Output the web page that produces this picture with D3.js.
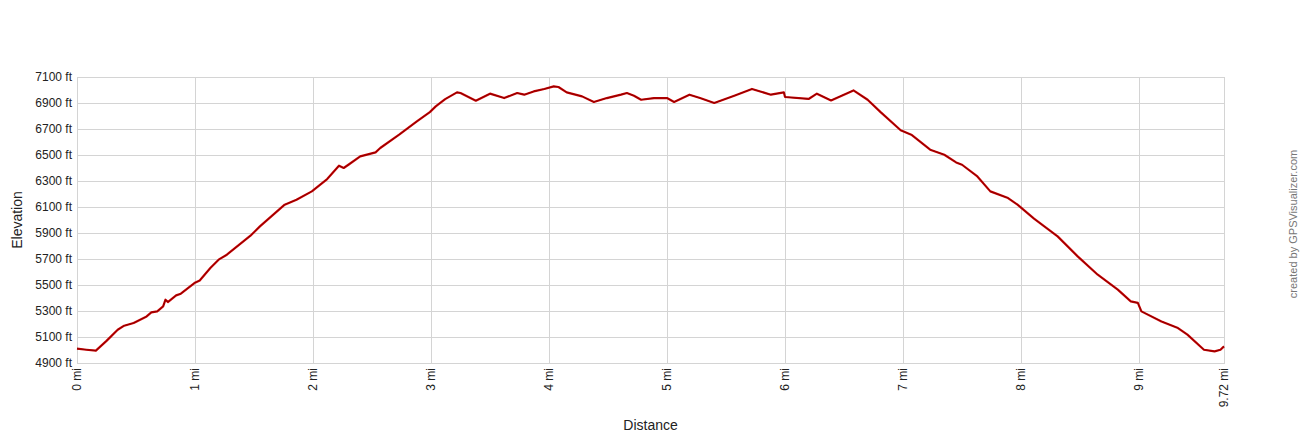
<!DOCTYPE html>
<html>
<head>
<meta charset="utf-8">
<title>Elevation profile</title>
<script src="https://d3js.org/d3.v7.min.js"></script>
<style>
	body{
		margin:0;
		background-color:#fff;
		font-family:'Liberation Sans', Arial, sans-serif;
	}
	.grid line{
		stroke:#d4d4d4;
		stroke-width:1;
	}
	.tick-label{
		font-size:12px;
		fill:#222;
	}
</style>
</head>
<body>
<div class="screen"></div>
<script>

//DATA

var distMi = [0.00, 0.08, 0.16, 0.25, 0.345, 0.40, 0.48, 0.59, 0.63, 0.68, 0.73, 0.75, 0.77, 0.84, 0.88,
	0.995, 1.04, 1.13, 1.20, 1.27, 1.47, 1.55, 1.76, 1.86, 1.99, 2.12, 2.22, 2.26, 2.30, 2.40, 2.53, 2.57,
	2.73, 2.88, 2.99, 3.04, 3.12, 3.22, 3.25, 3.38, 3.50, 3.62, 3.73, 3.79, 3.87, 3.96, 4.04, 4.08, 4.15,
	4.28, 4.38, 4.49, 4.61, 4.66, 4.72, 4.78, 4.89, 5.00, 5.06, 5.19, 5.28, 5.40, 5.57, 5.72, 5.88, 5.99,
	6.00, 6.20, 6.27, 6.39, 6.58, 6.70, 6.81, 6.98, 7.07, 7.23, 7.35, 7.45, 7.50, 7.63, 7.74, 7.89, 7.97,
	8.11, 8.31, 8.48, 8.65, 8.82, 8.93, 8.99, 9.02, 9.19, 9.33, 9.41, 9.55, 9.64, 9.69, 9.72];

var elevFt = [5010, 5002, 4995, 5070, 5156, 5187, 5208, 5258, 5289, 5297, 5335, 5387, 5369, 5420, 5433,
	5515, 5535, 5631, 5695, 5733, 5879, 5951, 6118, 6156, 6220, 6315, 6418, 6400, 6425, 6489, 6520, 6554,
	6656, 6758, 6830, 6874, 6930, 6982, 6977, 6918, 6972, 6938, 6977, 6964, 6989, 7008, 7028, 7023, 6982,
	6951, 6908, 6938, 6964, 6977, 6956, 6925, 6938, 6938, 6908, 6964, 6938, 6900, 6956, 7008, 6964, 6982,
	6946, 6931, 6972, 6920, 6997, 6925, 6830, 6690, 6656, 6541, 6502, 6443, 6425, 6335, 6220, 6169, 6118,
	6010, 5874, 5720, 5579, 5464, 5374, 5362, 5297, 5220, 5169, 5118, 5002, 4989, 5002, 5028];

var yTicks = [4900, 5100, 5300, 5500, 5700, 5900, 6100, 6300, 6500, 6700, 6900, 7100];
var xTicks = [0, 1, 2, 3, 4, 5, 6, 7, 8, 9, 9.72];

//SETUP

var width = 1300;
var height = 440;
var plotLeft = 77, plotTop = 77, plotRight = 1224, plotBottom = 363;

var svg = d3.select(".screen")
	.append("svg")
	.attr("width", width)
	.attr("height", height);

var x = d3.scaleLinear().domain([0, 9.72]).range([plotLeft, plotRight]);
var y = d3.scaleLinear().domain([4900, 7100]).range([plotBottom, plotTop]);

//GRID

var grid = svg.append("g").attr("class", "grid");

grid.selectAll("line.h")
	.data(yTicks)
	.enter()
	.append("line")
	.attr("class", "h")
	.attr("x1", plotLeft)
	.attr("x2", plotRight)
	.attr("y1", function(d){ return Math.round(y(d)) + 0.5; })
	.attr("y2", function(d){ return Math.round(y(d)) + 0.5; });

grid.selectAll("line.v")
	.data(xTicks)
	.enter()
	.append("line")
	.attr("class", "v")
	.attr("x1", function(d){ return Math.round(x(d)) + 0.5; })
	.attr("x2", function(d){ return Math.round(x(d)) + 0.5; })
	.attr("y1", plotTop)
	.attr("y2", plotBottom + 1);

//TICK LABELS

svg.selectAll("text.ylab")
	.data(yTicks)
	.enter()
	.append("text")
	.attr("class", "tick-label ylab")
	.attr("x", 72)
	.attr("y", function(d){ return y(d) + 4; })
	.attr("text-anchor", "end")
	.text(function(d){ return d + " ft"; });

svg.selectAll("text.xlab")
	.data(xTicks)
	.enter()
	.append("text")
	.attr("class", "tick-label xlab")
	.attr("text-anchor", "end")
	.attr("transform", function(d){ return "translate(" + (x(d) + 4) + "," + 368 + ") rotate(-90)"; })
	.text(function(d){ return d + " mi"; });

//AXIS TITLES

svg.append("text")
	.attr("x", (plotLeft + plotRight) / 2)
	.attr("y", 430)
	.attr("text-anchor", "middle")
	.style("font-size", "14px")
	.style("fill", "#222")
	.text("Distance");

svg.append("text")
	.attr("text-anchor", "middle")
	.attr("transform", "translate(22," + ((plotTop + plotBottom) / 2) + ") rotate(-90)")
	.style("font-size", "14px")
	.style("fill", "#222")
	.text("Elevation");

svg.append("text")
	.attr("text-anchor", "middle")
	.attr("transform", "translate(1297," + ((plotTop + plotBottom) / 2 + 4) + ") rotate(-90)")
	.style("font-size", "11px")
	.style("fill", "#777")
	.text("created by GPSVisualizer.com");

//PROFILE LINE

var line = d3.line()
	.x(function(d, i){ return x(distMi[i]); })
	.y(function(d){ return y(d); });

svg.append("path")
	.datum(elevFt)
	.attr("fill", "none")
	.attr("stroke", "#cc0000")
	.attr("stroke-width", 2.2)
	.attr("stroke-linejoin", "round")
	.attr("d", line);

svg.append("path")
	.datum(elevFt)
	.attr("fill", "none")
	.attr("stroke", "#8b0000")
	.attr("stroke-width", 1)
	.attr("stroke-linejoin", "round")
	.attr("d", line);

</script>
</body>
</html>
